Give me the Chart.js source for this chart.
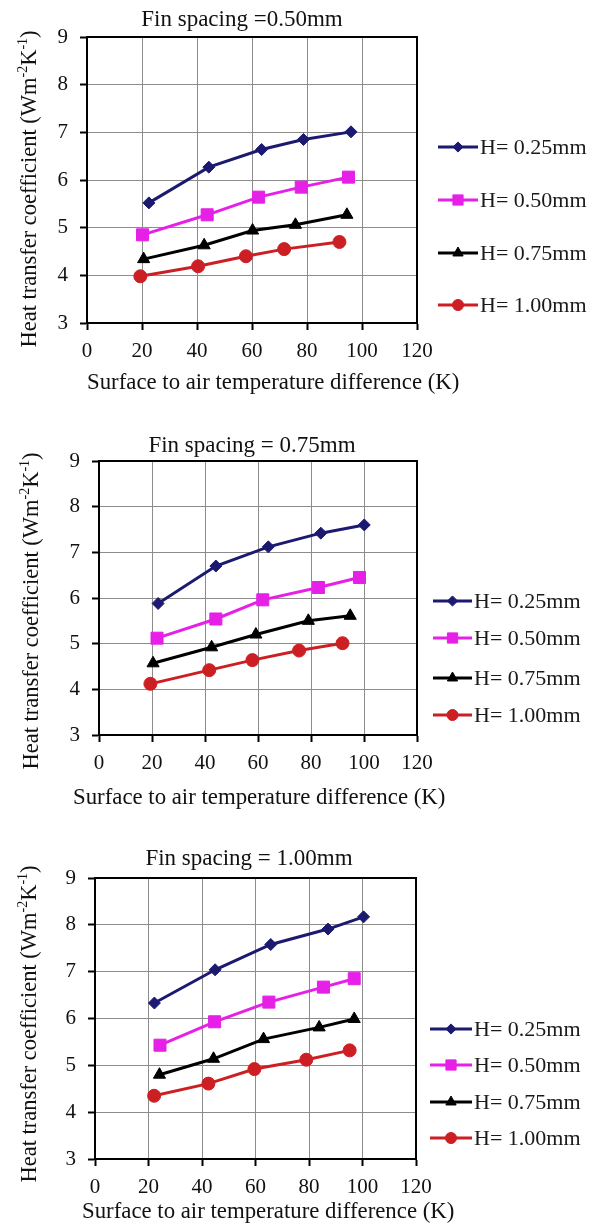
<!DOCTYPE html>
<html><head><meta charset="utf-8">
<script src="https://cdn.jsdelivr.net/npm/chart.js@4.4.1/dist/chart.umd.min.js"></script>
<style>
html,body{margin:0;padding:0;background:#fff;width:594px;height:1229px;overflow:hidden}
.c{position:absolute;left:0;width:594px}
canvas{display:block}
</style></head><body>
<div class="c" style="top:0;height:400px"><canvas id="c1" width="594" height="400"></canvas></div>
<div class="c" style="top:400px;height:420px"><canvas id="c2" width="594" height="420"></canvas></div>
<div class="c" style="top:820px;height:409px"><canvas id="c3" width="594" height="409"></canvas></div>
<script>
// ---------- data ----------
const seriesLabels = ['H= 0.25mm', 'H= 0.50mm', 'H= 0.75mm', 'H= 1.00mm'];
const chartTitles = ['Fin spacing =0.50mm', 'Fin spacing = 0.75mm', 'Fin spacing = 1.00mm'];
const xAxisTitle = 'Surface to air temperature difference (K)';
const yAxisTitleParts = [['Heat transfer coefficient (Wm', 0], ['-2', 1], ['K', 0], ['-1', 1], [')', 0]];
const xTickValues = [0, 20, 40, 60, 80, 100, 120];
const yTickValues = [3, 4, 5, 6, 7, 8, 9];

// Fin spacing 0.50 mm
const s050_H025_x = [22.5, 44.3, 63.5, 78.7, 96.0];
const s050_H025_y = [5.52, 6.27, 6.64, 6.85, 7.01];
const s050_H050_x = [20.2, 43.7, 62.4, 77.9, 95.1];
const s050_H050_y = [4.85, 5.27, 5.64, 5.85, 6.06];
const s050_H075_x = [20.6, 42.6, 60.2, 75.8, 94.5];
const s050_H075_y = [4.34, 4.63, 4.94, 5.06, 5.27];
const s050_H100_x = [19.4, 40.4, 57.8, 71.7, 91.8];
const s050_H100_y = [3.98, 4.19, 4.40, 4.55, 4.70];

// Fin spacing 0.75 mm
const s075_H025_x = [22.3, 44.1, 63.9, 83.7, 100.1];
const s075_H025_y = [5.88, 6.70, 7.12, 7.42, 7.60];
const s075_H050_x = [21.9, 44.1, 61.8, 82.8, 98.3];
const s075_H050_y = [5.12, 5.54, 5.96, 6.23, 6.45];
const s075_H075_x = [20.4, 42.5, 59.2, 79.0, 94.8];
const s075_H075_y = [4.57, 4.92, 5.20, 5.50, 5.61];
const s075_H100_x = [19.4, 41.6, 57.9, 75.5, 91.9];
const s075_H100_y = [4.12, 4.42, 4.64, 4.85, 5.01];

// Fin spacing 1.00 mm
const s100_H025_x = [22.2, 44.9, 65.7, 87.1, 100.4];
const s100_H025_y = [6.33, 7.04, 7.58, 7.91, 8.17];
const s100_H050_x = [24.3, 44.7, 65.0, 85.4, 96.9];
const s100_H050_y = [5.43, 5.93, 6.35, 6.67, 6.85];
const s100_H075_x = [24.1, 44.3, 63.0, 83.8, 96.9];
const s100_H075_y = [4.80, 5.14, 5.56, 5.81, 5.99];
const s100_H100_x = [22.1, 42.4, 59.6, 79.0, 95.2];
const s100_H100_y = [4.35, 4.61, 4.92, 5.12, 5.32];

// ---------- styles ----------
const seriesColors = ['#1c1a70', '#e620e6', '#000000', '#cc1f24'];
const seriesPoints = ['rectRot', 'rect', 'triangle', 'circle'];
const seriesRadius = [6, 8.5, 7, 6.5];
const FONT = '"Liberation Serif", "Times New Roman", serif';

function pts(xs, ys) { return xs.map((x, i) => ({ x: x, y: ys[i] })); }

function drawMarker(ctx, style, x, y, r, color) {
  ctx.save();
  ctx.fillStyle = color; ctx.strokeStyle = color; ctx.lineWidth = 1;
  ctx.beginPath();
  if (style === 'rectRot') {
    ctx.moveTo(x, y - r); ctx.lineTo(x + r, y); ctx.lineTo(x, y + r); ctx.lineTo(x - r, y); ctx.closePath();
  } else if (style === 'rect') {
    const s = Math.SQRT1_2 * r; ctx.rect(x - s, y - s, 2 * s, 2 * s);
  } else if (style === 'triangle') {
    const w = r * Math.sqrt(3) / 2;
    ctx.moveTo(x, y - r); ctx.lineTo(x + w, y + r / 2); ctx.lineTo(x - w, y + r / 2); ctx.closePath();
  } else {
    ctx.arc(x, y, r, 0, Math.PI * 2);
  }
  ctx.fill(); ctx.stroke();
  ctx.restore();
}

const decor = {
  id: 'decor',
  beforeDatasetsDraw(chart) {
    const a = chart.chartArea, ctx = chart.ctx;
    ctx.save(); ctx.strokeStyle = '#000'; ctx.lineWidth = 2;
    ctx.strokeRect(a.left, a.top, a.right - a.left, a.bottom - a.top);
    ctx.restore();
  },
  afterDraw(chart, args, o) {
    const ctx = chart.ctx;
    ctx.save();
    ctx.fillStyle = '#111';
    // chart title
    ctx.font = '23px ' + FONT; ctx.textAlign = 'center'; ctx.textBaseline = 'alphabetic';
    ctx.fillText(o.title, o.titleX, o.titleBase);
    // x axis title
    ctx.font = '22.8px ' + FONT; ctx.textAlign = 'left';
    ctx.fillText(xAxisTitle, o.xTitleLeft, o.xTitleBase);
    // y axis title with superscripts
    ctx.save();
    ctx.translate(o.yTitleX, o.yTitleY); ctx.rotate(-Math.PI / 2);
    const big = '22.5px ' + FONT, small = '14px ' + FONT;
    let total = 0;
    yAxisTitleParts.forEach(p => { ctx.font = p[1] ? small : big; total += ctx.measureText(p[0]).width; });
    let x = -total / 2; ctx.textAlign = 'left'; ctx.textBaseline = 'middle';
    yAxisTitleParts.forEach(p => {
      ctx.font = p[1] ? small : big;
      ctx.fillText(p[0], x, p[1] ? -6.5 : 0);
      x += ctx.measureText(p[0]).width;
    });
    ctx.restore();
    // legend
    chart.data.datasets.forEach((ds, i) => {
      const y = o.legendY[i];
      ctx.strokeStyle = ds.borderColor; ctx.lineWidth = 3;
      ctx.beginPath(); ctx.moveTo(o.legendX0, y); ctx.lineTo(o.legendX1, y); ctx.stroke();
      drawMarker(ctx, ds.pointStyle, (o.legendX0 + o.legendX1) / 2, y, ds.pointRadius * 0.85, ds.borderColor);
      ctx.fillStyle = '#1a1a1a'; ctx.font = '22px ' + FONT; ctx.textAlign = 'left'; ctx.textBaseline = 'middle';
      ctx.fillText(ds.label, o.legendX1 + 2, y + 1);
    });
    ctx.restore();
  }
};

function makeChart(id, seriesX, seriesY, L) {
  const datasets = seriesLabels.map((lab, i) => ({
    label: lab,
    data: pts(seriesX[i], seriesY[i]),
    borderColor: seriesColors[i],
    backgroundColor: seriesColors[i],
    pointBackgroundColor: seriesColors[i],
    pointBorderColor: seriesColors[i],
    pointStyle: seriesPoints[i],
    pointRadius: seriesRadius[i],
    pointBorderWidth: 1,
    borderWidth: 3,
    tension: 0,
    clip: false
  }));
  new Chart(document.getElementById(id), {
    type: 'scatter',
    data: { datasets: datasets },
    plugins: [decor],
    options: {
      responsive: false,
      animation: false,
      showLine: true,
      events: [],
      layout: { padding: { top: L.top, right: 594 - L.right, left: 0, bottom: 0 } },
      plugins: {
        legend: { display: false },
        tooltip: { enabled: false },
        decor: L.decor
      },
      scales: {
        x: {
          type: 'linear', min: 0, max: 120,
          afterBuildTicks: s => { s.ticks = xTickValues.map(v => ({ value: v })); },
          afterFit: s => { s.height = L.xH; },
          ticks: { color: '#111', font: { family: FONT, size: 21 }, padding: 9 },
          grid: { color: '#8c8c8c', lineWidth: 1, tickLength: 7, tickColor: '#000', tickWidth: 2 },
          border: { color: '#000', width: 2 },
          title: { display: false }
        },
        y: {
          type: 'linear', min: 3, max: 9,
          afterBuildTicks: s => { s.ticks = yTickValues.map(v => ({ value: v })); },
          afterFit: s => { s.width = L.left; },
          ticks: { color: '#111', font: { family: FONT, size: 21 }, padding: 12 },
          grid: { color: '#8c8c8c', lineWidth: 1, tickLength: 7, tickColor: '#000', tickWidth: 2 },
          border: { color: '#000', width: 2 }
        }
      }
    }
  });
}

makeChart('c1',
  [s050_H025_x, s050_H050_x, s050_H075_x, s050_H100_x],
  [s050_H025_y, s050_H050_y, s050_H075_y, s050_H100_y],
  { left: 87, right: 417, top: 37, xH: 77,
    decor: { title: chartTitles[0], titleX: 242, titleBase: 26, xTitleLeft: 87, xTitleBase: 389,
      yTitleX: 30, yTitleY: 189,
      legendX0: 438, legendX1: 478, legendY: [147, 200, 253, 305] } });

makeChart('c2',
  [s075_H025_x, s075_H050_x, s075_H075_x, s075_H100_x],
  [s075_H025_y, s075_H050_y, s075_H075_y, s075_H100_y],
  { left: 99, right: 417, top: 61, xH: 85,
    decor: { title: chartTitles[1], titleX: 252, titleBase: 52, xTitleLeft: 73, xTitleBase: 404,
      yTitleX: 32, yTitleY: 211,
      legendX0: 433, legendX1: 472, legendY: [201, 238, 278, 315] } });

makeChart('c3',
  [s100_H025_x, s100_H050_x, s100_H075_x, s100_H100_x],
  [s100_H025_y, s100_H050_y, s100_H075_y, s100_H100_y],
  { left: 95, right: 416, top: 58, xH: 70,
    decor: { title: chartTitles[2], titleX: 249, titleBase: 45, xTitleLeft: 82, xTitleBase: 398,
      yTitleX: 30, yTitleY: 204,
      legendX0: 430, legendX1: 472, legendY: [209, 245, 282, 318] } });
</script>
</body></html>
